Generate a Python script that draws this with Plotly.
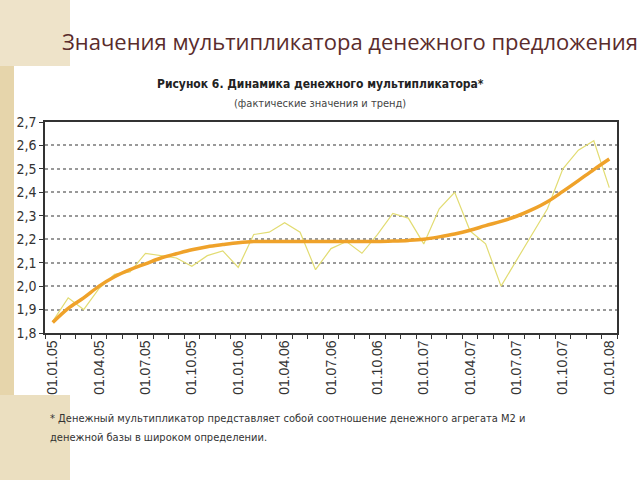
import plotly.graph_objects as go

# monthly observations, 01.01.05 .. 01.01.08
months = list(range(37))
actual = [1.85, 1.95, 1.90, 1.99, 2.05, 2.06, 2.14, 2.13, 2.12, 2.085,
          2.13, 2.15, 2.08, 2.22, 2.23, 2.27, 2.23, 2.07, 2.16, 2.19,
          2.14, 2.22, 2.31, 2.29, 2.18, 2.33, 2.40, 2.235, 2.18, 2.00,
          2.11, 2.22, 2.33, 2.50, 2.58, 2.62, 2.42]
trend = [1.845, 1.905, 1.95, 2.0, 2.04, 2.07, 2.095, 2.12, 2.138, 2.155,
         2.168, 2.177, 2.185, 2.19, 2.19, 2.19, 2.19, 2.19, 2.19, 2.19,
         2.19, 2.19, 2.192, 2.195, 2.20, 2.21, 2.222, 2.238, 2.258, 2.276,
         2.298, 2.326, 2.36, 2.404, 2.45, 2.497, 2.542]
tick_pos = list(range(0, 37, 3))
tick_labels = ['01.01.05', '01.04.05', '01.07.05', '01.10.05', '01.01.06', '01.04.06',
               '01.07.06', '01.10.06', '01.01.07', '01.04.07', '01.07.07', '01.10.07', '01.01.08']

W, H = 640, 480
L, R, T, B = 45, 23, 122, 147
PW, PH = W - L - R, H - T - B


def px(x):
    return (x - L) / PW


def py(y):
    return (H - B - y) / PH


NARROW = 'Liberation Sans Narrow, DejaVu Sans Condensed, Roboto Condensed, Roboto'

fig = go.Figure()
fig.add_trace(go.Scatter(x=months, y=actual, mode='lines', line=dict(color='#e2dc72', width=1.2),
                         showlegend=False, hoverinfo='skip'))
fig.add_trace(go.Scatter(x=months, y=trend, mode='lines', line=dict(color='#efa22a', width=3.5, shape='spline'),
                         showlegend=False, hoverinfo='skip'))

# beige slide decoration on the left
shapes = [
    dict(type='rect', x0=px(0), x1=px(14), y0=py(0), y1=py(480), fillcolor='#e6d5ab', line_width=0),
    dict(type='rect', x0=px(0), x1=px(70), y0=py(0), y1=py(66), fillcolor='#eee3c9', line_width=0),
    dict(type='rect', x0=px(0), x1=px(70), y0=py(395), y1=py(480), fillcolor='#ebdfc0', line_width=0),
]
for s in shapes:
    s.update(xref='paper', yref='paper', layer='above')

annotations = [
    dict(text='Значения мультипликатора денежного предложения', x=px(60), y=py(41), xanchor='left',
         yanchor='middle', font=dict(family='Open Sans', size=22, color='#5a2c2c')),
    dict(text='<b>Рисунок 6. Динамика денежного мультипликатора*</b>', x=px(320), y=py(84),
         xanchor='center', yanchor='middle', font=dict(family=NARROW, size=12, color='#222')),
    dict(text='(фактические значения и тренд)', x=px(320), y=py(103), xanchor='center', yanchor='middle',
         font=dict(family=NARROW, size=11, color='#444')),
    dict(text='* Денежный мультипликатор представляет собой соотношение денежного агрегата М2 и',
         x=px(48), y=py(418), xanchor='left', yanchor='middle', font=dict(family=NARROW, size=11, color='#333')),
    dict(text='денежной базы в широком определении.', x=px(48), y=py(437), xanchor='left', yanchor='middle',
         font=dict(family=NARROW, size=11, color='#333')),
]
for a in annotations:
    a.update(xref='paper', yref='paper', showarrow=False)

fig.update_layout(
    width=W, height=H, margin=dict(l=L, r=R, t=T, b=B),
    paper_bgcolor='white', plot_bgcolor='white',
    separators=', ',
    shapes=shapes, annotations=annotations,
    xaxis=dict(range=[-0.5, 36.5], tickvals=tick_pos, ticktext=tick_labels, tickangle=-90,
               ticks='outside', ticklen=0, showgrid=False, zeroline=False,
               showline=True, linecolor='#333', linewidth=1.5, mirror=True,
               tickfont=dict(family='Liberation Sans', size=14, color='#333'),
               minor=dict(tick0=0.5, dtick=1, ticks='outside', ticklen=4, tickcolor='#333', tickwidth=1.2,
                          showgrid=False)),
    yaxis=dict(range=[1.8, 2.7], dtick=0.1, tickformat='.1f', ticks='outside', ticklen=4, tickcolor='#333',
               showgrid=True, gridcolor='#999', griddash='dot', gridwidth=1.5, zeroline=False,
               showline=True, linecolor='#333', linewidth=1.5, mirror=True,
               tickfont=dict(family=NARROW, size=14, color='#333')),
)

fig.write_html('out.html', config={'displayModeBar': False},
               post_script="document.body.style.margin='0';")
